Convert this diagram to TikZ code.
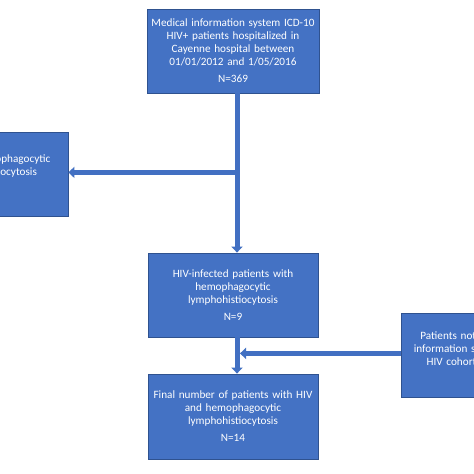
\documentclass[tikz,border=0pt]{standalone}
\usepackage{fontspec}
\setmainfont{Carlito}
\usetikzlibrary{arrows.meta,calc}
\definecolor{boxblue}{HTML}{4472C4}
\definecolor{boxedge}{HTML}{2F528F}
\definecolor{arrowblue}{HTML}{4270C2}
\tikzset{
  flowbox/.style={rectangle, fill=boxblue, draw=boxedge, line width=0.8bp,
    minimum width=170bp, minimum height=84bp, text width=166bp, align=center,
    text=white, inner sep=0pt,
    font=\fontsize{11.2bp}{13bp}\selectfont},
  flowarrow/.style={draw=arrowblue, line width=5bp,
    -{Triangle[length=6bp,width=11bp]}}
}
\begin{document}
\begin{tikzpicture}[x=1bp,y=-1bp]
\useasboundingbox (0,0) rectangle (474,474);
\clip (0,0) rectangle (474,474);
\fill[white] (0,0) rectangle (474,474);
\node[flowbox, minimum width=172bp] (top) at (233,51)
  {Medical information system ICD-10\\HIV+ patients hospitalized in\\Cayenne hospital between\\01/01/2012 and 1/05/2016\\[4bp]N=369};
\node[flowbox, minimum width=152bp, text width=148bp] (left) at (-8,174)
  {Without hemophagocytic\\lymphohistiocytosis\\[4bp]\mbox{}};
\node[flowbox] (mid) at (233,295)
  {HIV-infected patients with\\hemophagocytic\\lymphohistiocytosis\\[4bp]N=9};
\node[flowbox, minimum width=146bp, text width=142bp] (right) at (474,355)
  {Patients not in medical\\information system but in\\HIV cohort database\\\mbox{}};
\node[flowbox, minimum height=85bp] (bot) at (233,416.5)
  {Final number of patients with HIV\\and hemophagocytic\\lymphohistiocytosis\\[4bp]N=14};
\coordinate (j1) at ($(top.south)+(4,0)$);
\coordinate (b1) at ($(j1)+(0,79)$);
\coordinate (j2) at ($(mid.south)+(4,0)$);
\coordinate (b2) at ($(j2)+(0,16)$);
\draw[flowarrow] (j1) -- ($(mid.north)+(4,0)$);
\draw[flowarrow] (b1) -- (left.east |- b1);
\draw[flowarrow] (j2) -- ($(bot.north)+(4,0)$);
\draw[flowarrow] (right.west |- b2) -- ($(b2)+(3,0)$);
\end{tikzpicture}
\end{document}
